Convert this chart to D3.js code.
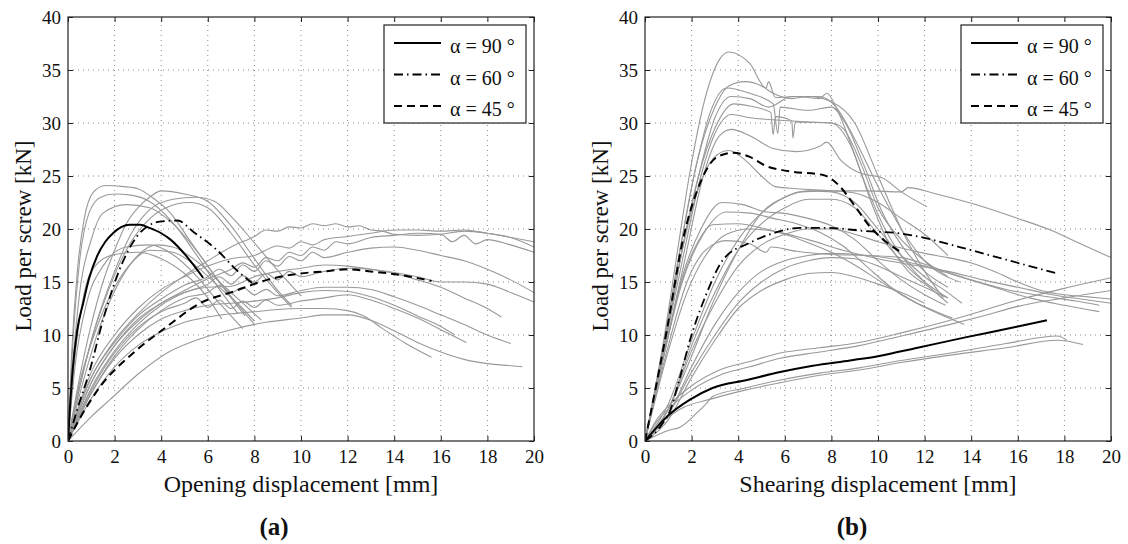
<!DOCTYPE html>
<meta charset="utf-8">
<style>body{margin:0;background:#fff}</style>
<svg id="fig" width="1128" height="544"></svg>
<script src="https://cdn.jsdelivr.net/npm/d3@7/dist/d3.min.js"></script>
<script>

var xTicks = [0,2,4,6,8,10,12,14,16,18,20];
var yTicks = [0,5,10,15,20,25,30,35,40];
var legendLabels = ["α = 90 °","α = 60 °","α = 45 °"];

// (a) opening - individual tests
var openGrey90 = [
 [[0,0],[0.15,8],[0.4,16],[0.7,21],[1.1,23.5],[1.6,24.1],[2.4,24],[3,23.8],[3.6,23],[4.4,21.5],[5.2,19],[6,16.5],[7,13.5],[7.6,11.8]],
 [[0,0],[0.2,9],[0.5,17],[0.9,21.5],[1.4,23],[2,23.3],[2.7,23.2],[3.5,22.6],[4.5,20.6],[5.5,17.6],[6.6,14],[7.3,12]],
 [[0,0],[0.2,7],[0.5,14],[1,19],[1.5,21.5],[2.5,22.3],[3.5,22],[4.5,20.5],[5.5,18],[6.5,15],[7.5,12.3],[8,11]],
 [[0,0],[0.3,8],[0.7,14],[1.2,16.6],[2,17.6],[3,17.8],[4,17.2],[5,15.8],[6,13.5],[6.6,11.5]],
 [[0,0],[0.3,7],[0.8,13],[1.5,16.5],[2.5,18.3],[3.5,18.5],[4.5,17.6],[5.5,15.6],[6.5,13],[7.5,10.6]]
];
var openGrey60 = [
 [[0,0],[0.5,6],[1,11],[1.5,15],[2,18],[2.5,20.5],[3,22],[3.5,23],[4,23.6],[5,23.3],[6,22.6],[7,20.3],[8,17.2],[9,14.2],[9.6,12.8]],
 [[0,0],[0.6,6],[1.2,11],[2,16],[2.7,19.5],[3.5,21.8],[4.5,22.8],[5.5,23],[6.3,22.6],[7,21.2],[8,18.7],[9,16.1],[10,13.7]],
 [[0,0],[0.5,5],[1,9.5],[1.7,14],[2.5,18],[3.3,20.5],[4.2,22],[5.2,22.5],[6,22],[7,19.6],[8,16.6],[9,14],[9.6,12.6]],
 [[0,0],[0.7,6],[1.4,11],[2.2,15],[3,17.5],[3.8,18.5],[4.5,18.3],[5.5,17],[6.5,15],[7.5,13],[8.3,11.4]],
 [[0,0],[0.5,5.5],[1.2,10.5],[2,14.5],[2.8,17],[3.5,18],[4.5,17.8],[5.5,16.5],[6.5,14.5],[7.5,12.5],[8,11.3]]
];
var openGrey45 = [
 [[0,0],[0.5,3.5],[1,6],[2,9.5],[3,12],[4,14],[5,15.6],[6,17],[7,18.3],[8,19.3],[8.5,19.9],[9,19.8],[9.5,20.2],[10,20.1],[10.5,20.5],[11,20.3],[11.5,20.5],[12,20.2],[12.5,20.3],[13,19.9],[13.5,19.8],[14,19.5],[15,19.4],[16,19.5],[17,19.8],[18,19.6],[19,19.2],[20,18.3]],
 [[0,0],[1,6.5],[2,10],[3,12.5],[4,14.3],[5,15.5],[6,16.5],[7,17.2],[8,17.5],[9,18.4],[9.5,18.2],[10,18.8],[10.5,18.5],[11,19],[12,19.3],[13,19.6],[14,19.9],[15,19.9],[16,19.8],[17,19.9],[18,19.6],[19,19.2],[20,18.8]],
 [[0,0],[1,5.5],[2,9],[3,11.5],[4,13],[5,14.2],[6,15.3],[7,16.2],[7.5,16.8],[8,16.4],[8.5,17.3],[9,17],[9.5,17.8],[10,17.5],[10.5,18.3],[11,18],[11.5,18.8],[12,18.6],[13,19.2],[14,19.4],[15,19.6],[16,19.5],[16.5,18.8],[17,19.4],[17.5,18.6],[18,19],[19,18.5],[20,17.8]],
 [[0,0],[1,6],[2,9.3],[3,11.8],[4,13.4],[5,14.7],[6,15.5],[6.5,16.2],[7,15.6],[7.5,16.6],[8,16],[8.5,17],[9,16.5],[9.5,17.4],[10,17],[10.5,17.8],[11,17.3],[12,17.8],[13,18.2],[14,18.3],[15,18],[16,17.5],[17,17],[18,16.2],[19,15.2],[20,14]],
 [[0,0],[1,5],[2,8.5],[3,11],[4,12.8],[5,14],[6,14.8],[6.5,15.5],[7,14.8],[7.5,15.6],[8,15],[8.5,15.8],[9,15.2],[9.5,16],[10,15.5],[11,16],[12,16.3],[13,16.2],[14,15.9],[15,15.5],[16,15],[17,15],[18,14.8],[19,14],[20,13.1]],
 [[0,0],[1,5.5],[2,9],[3,11.3],[4,13],[5,14],[6,14.5],[7,14.6],[8,15.5],[9,16],[10,16.3],[11,16.6],[12,16.5],[13,16.2],[14,15.8],[15,15.2],[16,14.5],[17,13.5],[18,12.5],[18.6,11.7]],
 [[0,0],[1,4.5],[2,8],[3,10.5],[4,12.3],[5,13.5],[6,14],[6.5,14.7],[7,14],[7.5,14.5],[8,13.8],[8.5,14.3],[9,13.7],[10,14.2],[11,14.5],[12,14.5],[13,14.3],[14,13.6],[15,12.8],[16,11.9],[17,11],[18,10],[19,9.2]],
 [[0,0],[1,4.8],[2,8.3],[3,10.7],[4,12.2],[5,13],[5.5,13.5],[6,12.6],[6.5,13.3],[7,12.5],[7.5,13.2],[8,12.6],[8.5,13.3],[9,12.8],[10,13.2],[11,13.5],[12,13.8],[13,13.3],[14,12.5],[15,11.6],[16,10.5],[17.1,9.3]],
 [[0,0],[1,4.5],[2,7.8],[3,10],[4,11.5],[5,12.3],[6,12.8],[7,13],[8,13.2],[9,13.5],[10,14],[11,14.2],[12,14.1],[13,13.6],[14,12.8],[15,11.8],[16,10.8],[16.6,10]],
 [[0,0],[1,4],[2,7],[3,9],[4,10.3],[5,11.2],[6,11.7],[7,12],[8,12.2],[9,12.4],[10,12.5],[11,12.5],[12,12.3],[12.7,11.8],[13.5,10.6],[14.5,9.2],[15.6,7.9]],
 [[0,0],[1,2.3],[1.8,3.9],[3,6.3],[4.25,8.3],[5.5,9.5],[7,10.5],[8.5,11.2],[10,11.6],[11,11.9],[12,11.9],[13,11.4],[14,10.4],[15,9.3],[16,8.4],[17,7.7],[18,7.3],[19,7.1],[19.5,7]]
];
// (a) opening - mean curves
var openMean90 = [[0,0],[0.08,3],[0.2,6.7],[0.4,10.5],[0.65,13],[0.9,15.3],[1.24,17.4],[1.6,18.8],[1.93,19.6],[2.3,20.2],[2.66,20.4],[3.1,20.4],[3.5,20.1],[4,19.6],[4.4,19],[5.1,17.4],[5.8,15.4]];
var openMean60 = [[0,0],[0.4,3],[0.94,6.7],[1.5,11.4],[2.2,16.1],[2.96,19.3],[3.95,20.7],[4.7,20.8],[5.4,19.7],[6.4,18],[7.25,16.1],[7.9,14.9]];
var openMean45 = [[0,0],[0.4,1.7],[1.37,5.1],[2.8,8.3],[4.25,10.8],[5.67,13],[7.1,14.1],[8.54,15.2],[9.96,15.8],[11,16],[12,16.2],[13,16],[13.8,15.8],[14.7,15.5],[15.6,15.1]];

// (b) shearing - individual tests
var shearGrey45 = [
 [[0,0],[0.8,9.5],[1.4,18],[1.9,25],[2.6,32.5],[3.2,36],[3.6,36.7],[4.5,35.6],[5.2,33.3],[5.3,33.9],[5.6,32.4],[6.5,32.5],[7.5,32.3],[7.8,32.8],[8.3,31],[9,27],[9.8,22],[10.5,18.5],[11.3,16],[12.2,14.5],[13,13]],
 [[0,0],[0.8,9],[1.5,18],[2.2,26],[3,31.5],[3.6,33.5],[4.3,33.9],[5,33.5],[5.5,32.8],[6.3,32.3],[7,32.5],[8,32],[9,30],[10,25],[11,20],[12,16],[12.8,13.5]],
 [[0,0],[0.8,9],[1.5,18],[2.2,26],[2.8,31],[3.5,33.3],[4.5,32.8],[5.5,31.8],[5.7,29],[5.8,31.5],[7,31.2],[8,31.5],[8.6,30],[9.4,26],[10.2,21.5],[11,18.5],[12,16],[13,14.5]],
 [[0,0],[0.8,8.5],[1.5,17],[2.3,25],[3,30.5],[3.7,32.5],[4.5,32.3],[5.3,31.5],[6.3,32.5],[7.5,32.5],[8.2,31.5],[9,28.5],[10,24],[11,20],[12,17],[13.5,15]],
 [[0,0],[0.8,8.5],[1.5,17],[2.3,25],[3,29.5],[3.8,31.8],[4.5,31.6],[5.4,31],[5.5,28.9],[5.6,30.6],[6.3,30.2],[6.35,28.6],[6.45,30.1],[8,30],[8.5,29.5],[9.3,26],[10,22],[11,19],[12,17],[13,15.5]],
 [[0,0],[0.8,8.5],[1.6,17],[2.4,25],[3,29],[3.7,30.8],[4.5,30.5],[5.5,30.3],[7,30.1],[8,30],[8.8,28],[9.5,24],[10.3,20],[11,17.5],[12,15]],
 [[0,0],[0.9,9],[1.7,17],[2.5,25],[3.2,28.8],[3.7,29.4],[4.5,28.8],[5.5,27.6],[6.5,27.3],[7.5,27.8],[7.8,28.2],[8.4,26.5],[9.2,25.3],[10.2,24.8],[11,23.5],[12.1,22.1]],
 [[0,0],[0.9,9.5],[1.6,18],[2.4,24.5],[3.1,27],[3.6,27.4],[4.3,26.5],[5,25],[5.6,24],[6.5,23.8],[8,23.6],[9,23.4],[10,22.5],[11,21],[12,19.5],[13,17.5]],
 [[0,0],[0.8,8],[1.6,15.5],[2.4,20],[3.3,22.5],[4.2,22.3],[5.2,21.6],[5.9,21.5],[7,21],[8,20.3],[9,19],[10,17],[11,15.2],[12,13.8],[12.9,12.8]],
 [[0,0],[0.8,8],[1.6,15],[2.5,19.5],[3.5,21.6],[4.5,21.5],[5.5,21],[6.5,20.5],[7.5,19.7],[8.5,18.4],[9.5,16.5],[10.5,14.6],[11.5,13.2],[12.5,12.2],[13.2,11.6]],
 [[0,0],[0.8,8],[1.5,14.5],[2.2,18.5],[2.9,20.4],[4,20.5],[5,20.1],[6,19.5],[7,18.7],[8,17.8],[9,16.6],[10,15.2],[11,13.8],[12.3,12.3],[13.7,11]],
 [[0,0],[1,9],[1.8,15],[2.6,18],[3.5,18.9],[4.5,18.6],[5.2,17.8],[5.4,18.3],[6.5,17.9],[8,17.6],[9.5,17.5],[11,17.3],[12.5,16.3],[14,15.2],[15.5,14.3],[17,13.7],[18.5,13.2],[19.5,12.8]],
 [[0,0],[1,8.5],[1.8,14],[2.6,17.5],[3.5,19.5],[4.5,20],[5.5,19.8],[7,19],[8.5,18],[10,17.2],[11.5,16.6],[13,16],[14.5,15.2],[16,14.5],[17.5,13.8],[19,13.3],[20,13]]
];
var shearGrey60 = [
 [[0,0],[1,3],[2,8],[3,13.5],[4,18],[5,21.5],[6,23],[6.7,23.5],[8,23.6],[9.5,23.6],[11,23.5],[11.3,23.9],[12.5,23.3],[14.5,22.1],[16,21],[17.4,19.9],[18.5,18.8],[20,17.3]],
 [[0,0],[1,3.5],[2,9.5],[3,15],[4,19],[5,21.5],[6,23],[7,23.6],[8,23.5],[9,22.5],[10,20],[11,17.5],[12,15.5],[13,14],[13.6,13]],
 [[0,0],[1,3],[2,9],[3,14],[4,18],[5,20.5],[6,22],[7,22.8],[8,22.8],[9,22],[10,19.5],[11,17],[12,15],[13,13.5]],
 [[0,0],[1,2.5],[2,7],[3,11],[4,14],[5,16],[6,17],[7,17.5],[8,17.7],[9,17.6],[10,17.4],[11,17],[12,16.5],[13.5,15.5],[15,14.5],[16.5,13.5],[18,12.8],[19.5,12.2]],
 [[0,0],[1,2.5],[2,6.5],[3,10],[4,13],[5,15],[6,16.3],[7,17],[8,17.3],[9,17.2],[10,16.5],[11,15.5],[12,14.5],[13,13.5]],
 [[0,0],[1,2],[2,6],[3,9.5],[4,12.5],[5,14.2],[6,15.2],[7,15.8],[8,15.9],[9,15.5],[10,14.8],[11,14],[12,13]],
 [[0,0],[1,3],[2,8.5],[3,13],[4,16.5],[5,18.5],[6,19.5],[7,20],[8,20],[9,19.5],[10,18.8],[11,18.2],[12,17.7],[13,17.3],[14,16.8],[15,16],[16,15],[17,14.2],[18,13.8],[19,13.6],[20,13.4]]
];
var shearGrey90 = [
 [[0,0],[0.5,2],[1,3.3],[1.93,5.1],[3.2,6.7],[4.5,7.5],[5.8,8.3],[7.5,8.8],[9.2,9.3],[11,10.2],[13.1,11.4],[14.5,12.3],[16,13.3],[18,14.4],[20,15.4]],
 [[0,0],[0.5,1.8],[1,3],[2,4.8],[3.2,6.2],[4.5,7],[5.8,7.8],[7.5,8.4],[9.2,9],[11,9.9],[13.1,11],[14.5,11.8],[16,12.7],[18,13.5],[20,14.2]],
 [[0,0],[1,1],[1.5,1.3],[2.2,2.6],[2.66,3.6],[2.9,4.2],[4.3,5],[5.8,5.75],[7.5,6.4],[9.2,6.9],[11,7.6],[13.1,8.3],[15.5,9.2],[17.7,9.9],[18.1,9.5]],
 [[0,0],[0.6,1.5],[1.5,3],[2.9,4],[4.3,4.8],[5.8,5.5],[7.5,6.2],[9.2,6.7],[11,7.4],[13.1,8.1],[15.5,8.8],[17.7,9.5],[18.8,9.1]]
];
// (b) shearing - mean curves
var shearMean90 = [[0,0],[0.94,2.3],[1.93,3.9],[2.9,5],[4.37,5.75],[5.8,6.5],[7.2,7.1],[8.8,7.6],[10,8],[11.7,8.8],[13.8,9.8],[16,10.8],[17.25,11.4]];
var shearMean60 = [[0,0],[0.6,1.2],[1.1,3],[1.5,6],[1.93,9.5],[2.66,14],[3.35,17.1],[4.5,18.7],[5.5,19.6],[6.65,20.1],[7.8,20.1],[9.5,19.8],[10.9,19.6],[11.7,19.3],[13.5,18.3],[15.5,17.1],[17.7,15.8]];
var shearMean45 = [[0,0],[0.94,10.5],[1.63,19],[2.36,24.3],[3.1,26.8],[3.78,27.2],[4.5,26.8],[5.24,25.9],[5.8,25.6],[6.35,25.4],[7.64,25.1],[8.37,24],[8.93,22.4],[9.66,20.2],[10.4,18.7],[11,17.8]];

var svg = d3.select("#fig");
var serif = "\"Liberation Serif\", \"Times New Roman\", serif";

var styles = [
	{dash: null, width: 2},
	{dash: "9,4,1.5,4", width: 1.8},
	{dash: "8,5", width: 2}
];

function panel(opt){
	var x = d3.scaleLinear().domain([0,20]).range([opt.left, opt.right]);
	var y = d3.scaleLinear().domain([0,40]).range([441,17]);
	var g = svg.append("g");

	// dotted grid
	g.selectAll(".gx").data(xTicks.slice(1,-1)).enter().append("line")
		.attr("x1",function(d){ return x(d); }).attr("x2",function(d){ return x(d); })
		.attr("y1",y(0)).attr("y2",y(40))
		.attr("stroke","#888").attr("stroke-width",1).attr("stroke-dasharray","1,4");
	g.selectAll(".gy").data(yTicks.slice(1,-1)).enter().append("line")
		.attr("y1",function(d){ return y(d); }).attr("y2",function(d){ return y(d); })
		.attr("x1",x(0)).attr("x2",x(20))
		.attr("stroke","#888").attr("stroke-width",1).attr("stroke-dasharray","1,4");

	svg.append("clipPath").attr("id","clip"+opt.id).append("rect")
		.attr("x",x(0)).attr("y",y(40)).attr("width",x(20)-x(0)).attr("height",y(0)-y(40));

	var line = d3.line()
		.x(function(d){ return x(d[0]); })
		.y(function(d){ return y(d[1]); })
		.curve(d3.curveMonotoneX);

	var plot = g.append("g").attr("clip-path","url(#clip"+opt.id+")");
	plot.selectAll(".grey").data(opt.grey).enter().append("path")
		.attr("d",line).attr("fill","none")
		.attr("stroke","#999").attr("stroke-width",1.1);
	plot.selectAll(".mean").data(opt.mean).enter().append("path")
		.attr("d",line).attr("fill","none")
		.attr("stroke","#000")
		.attr("stroke-width",function(d,i){ return styles[i].width; })
		.attr("stroke-dasharray",function(d,i){ return styles[i].dash; });

	// axes with inward ticks on all four sides
	var axes = [
		[d3.axisBottom(x).tickValues(xTicks).tickSize(-5).tickPadding(9), "translate(0,"+y(0)+")"],
		[d3.axisTop(x).tickValues(xTicks).tickSize(-5).tickFormat(""), "translate(0,"+y(40)+")"],
		[d3.axisLeft(y).tickValues(yTicks).tickSize(-5).tickPadding(7), "translate("+x(0)+",0)"],
		[d3.axisRight(y).tickValues(yTicks).tickSize(-5).tickFormat(""), "translate("+x(20)+",0)"]
	];
	axes.forEach(function(a){
		var ag = g.append("g").attr("transform",a[1]).call(a[0]);
		ag.attr("font-family",serif).attr("font-size",19);
		ag.select(".domain").remove();
		ag.selectAll("line").attr("stroke","#222");
		ag.selectAll("text").attr("fill","#111");
	});

	g.append("rect").attr("x",x(0)).attr("y",y(40))
		.attr("width",x(20)-x(0)).attr("height",y(0)-y(40))
		.attr("fill","none").attr("stroke","#222").attr("stroke-width",1.2);

	g.append("text").attr("x",(x(0)+x(20))/2).attr("y",492)
		.attr("text-anchor","middle").attr("font-family",serif).attr("font-size",24)
		.attr("fill","#111").text(opt.xlabel);
	g.append("text").attr("transform","translate("+(x(0)-37)+",236) rotate(-90)")
		.attr("text-anchor","middle").attr("font-family",serif).attr("font-size",23)
		.attr("fill","#111").text("Load per screw [kN]");
	g.append("text").attr("x",opt.tag).attr("y",535)
		.attr("text-anchor","middle").attr("font-family",serif).attr("font-size",25)
		.attr("font-weight","bold").attr("fill","#111").text(opt.letter);

	// legend
	var lx = x(20) - 150, ly = 25;
	g.append("rect").attr("x",lx).attr("y",ly).attr("width",142).attr("height",98)
		.attr("fill","#fff").attr("stroke","#222").attr("stroke-width",1.2);
	var rows = g.selectAll(".leg").data(legendLabels).enter().append("g")
		.attr("transform",function(d,i){ return "translate("+lx+","+(ly+18+i*31.5)+")"; });
	rows.append("line").attr("x1",10).attr("x2",57).attr("y1",0).attr("y2",0)
		.attr("stroke","#000")
		.attr("stroke-width",function(d,i){ return styles[i].width; })
		.attr("stroke-dasharray",function(d,i){ return styles[i].dash; });
	rows.append("text").attr("x",66).attr("y",10)
		.attr("font-family",serif).attr("font-size",20).attr("fill","#111")
		.text(function(d){ return d; });
}

panel({id:"a", left:68, right:534, xlabel:"Opening displacement [mm]", letter:"(a)", tag:274,
	grey: openGrey90.concat(openGrey60, openGrey45), mean:[openMean90, openMean60, openMean45]});
panel({id:"b", left:645, right:1111, xlabel:"Shearing displacement [mm]", letter:"(b)", tag:852,
	grey: shearGrey45.concat(shearGrey60, shearGrey90), mean:[shearMean90, shearMean60, shearMean45]});

</script>
